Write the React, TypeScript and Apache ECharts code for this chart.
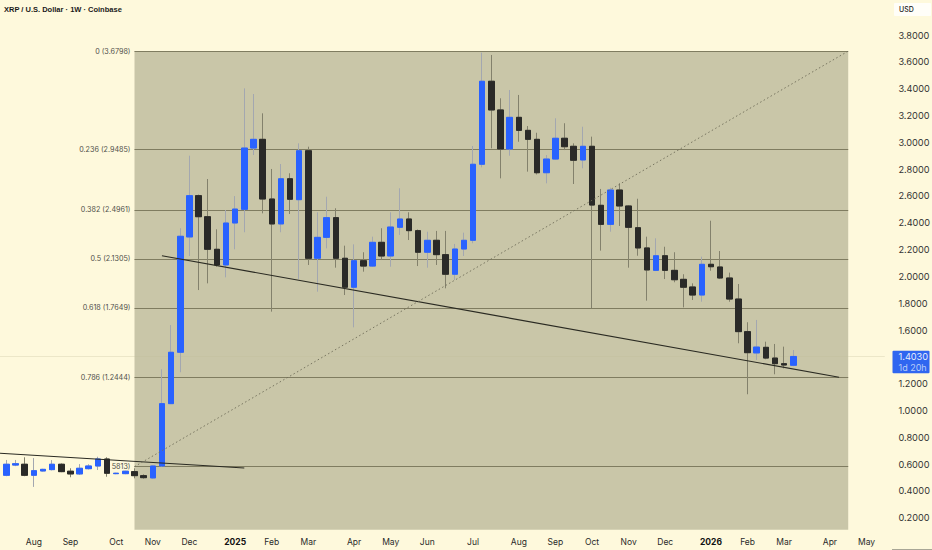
import React, { useEffect, useRef } from "react";
import * as echarts from "echarts";

const FONT = "Inter, 'Liberation Sans', sans-serif";
const PAGE_BG = "#fef9dc";
const TAN = "#c9c6a8";
const FIB_LINE = "#7f7c60";
const BLUE = "#2962ff";
const DARK = "#2a2a28";

const opens = [0.414,0.517,0.593,0.599,0.517,0.549,0.559,0.599,0.547,0.527,0.566,0.586,0.638,0.529,0.529,0.544,0.514,0.497,0.586,1.051,1.434,2.294,2.602,2.445,2.202,2.085,2.398,2.5,2.957,3.022,2.577,2.391,2.728,2.572,2.937,2.135,2.291,2.438,2.135,1.919,2.117,2.077,2.254,2.152,2.366,2.428,2.341,2.18,2.269,2.162,2.016,2.204,2.269,2.836,3.455,3.241,2.95,3.186,3.089,3.022,2.773,2.875,3.03,2.97,2.868,2.97,2.53,2.388,2.644,2.525,2.363,2.212,2.045,2.154,2.045,1.978,1.921,1.861,2.09,2.07,1.988,1.831,1.588,1.429,1.471,1.391,1.349,1.337];
const closes = [0.519,0.599,0.603,0.517,0.551,0.561,0.599,0.544,0.527,0.569,0.586,0.638,0.532,0.532,0.547,0.514,0.499,0.586,1.051,1.434,2.299,2.602,2.445,2.202,2.085,2.398,2.502,2.957,3.022,2.577,2.391,2.728,2.575,2.937,2.135,2.291,2.438,2.135,1.919,2.117,2.077,2.254,2.152,2.368,2.428,2.341,2.18,2.269,2.162,2.016,2.204,2.269,2.836,3.455,3.241,2.95,3.186,3.089,3.022,2.773,2.875,3.03,2.967,2.866,2.97,2.532,2.388,2.644,2.525,2.366,2.212,2.048,2.154,2.045,1.975,1.919,1.861,2.09,2.072,1.988,1.831,1.588,1.431,1.473,1.391,1.349,1.339,1.403];
const lows = [0.4,0.51,0.585,0.51,0.43,0.545,0.553,0.54,0.502,0.52,0.56,0.556,0.506,0.525,0.525,0.494,0.491,0.49,0.58,1.05,1.285,2.152,1.898,1.948,2.072,1.993,2.202,2.329,2.905,2.47,1.737,2.329,2.465,1.98,2.085,1.886,2.209,2.065,1.861,1.62,2.035,2.07,2.122,2.072,2.309,2.271,2.077,2.065,2.085,1.911,1.973,2.152,2.247,2.813,2.955,2.731,2.9,3.004,2.781,2.76,2.694,2.87,2.942,2.689,2.806,1.762,2.192,2.333,2.376,2.065,2.154,1.819,2.04,1.98,1.956,1.769,1.824,1.811,2.042,1.98,1.811,1.501,1.121,1.377,1.382,1.27,1.314,1.33];
const highs = [0.53,0.631,0.631,0.651,0.645,0.565,0.63,0.605,0.569,0.6,0.599,0.655,0.651,0.535,0.55,0.569,0.524,0.59,1.307,1.637,2.359,2.9,2.61,2.726,2.351,2.495,2.599,3.402,3.36,3.216,2.801,2.838,2.769,2.992,2.967,2.478,2.594,2.508,2.229,2.239,2.18,2.296,2.359,2.478,2.657,2.478,2.35,2.333,2.339,2.339,2.242,2.326,2.972,3.668,3.651,3.328,3.39,3.353,3.121,3.071,2.905,3.179,3.142,2.992,3.116,3.042,2.652,2.661,2.694,2.53,2.579,2.296,2.284,2.221,2.18,2.016,1.948,2.147,2.415,2.189,2.028,1.943,1.658,1.675,1.513,1.496,1.476,1.451];

const FIRST_WEEK = Date.UTC(2024, 6, 8);
const CATEGORY_COUNT = 98;
const weeks = Array.from({ length: CATEGORY_COUNT }, (_, i) =>
  new Date(FIRST_WEEK + i * 7 * 86400000).toISOString().slice(0, 10)
);

const monthTicks: [number, string][] = [
  [4,"Aug"],[8,"Sep"],[13,"Oct"],[17,"Nov"],[21,"Dec"],[26,"2025"],[30,"Feb"],[34,"Mar"],[39,"Apr"],[43,"May"],[47,"Jun"],
  [52,"Jul"],[57,"Aug"],[61,"Sep"],[65,"Oct"],[69,"Nov"],[73,"Dec"],[78,"2026"],[82,"Feb"],[86,"Mar"],[91,"Apr"],[95,"May"],
];
const tickMap = new Map(monthTicks);

const priceTicks = ["0.2000","0.4000","0.6000","0.8000","1.0000","1.2000","1.6000","1.8000","2.0000","2.2000","2.4000","2.6000","2.8000","3.0000","3.2000","3.4000","3.6000","3.8000"];

const fibLevels: [string, number][] = [
  ["0 (3.6798)", 3.6798],
  ["0.236 (2.9485)", 2.9485],
  ["0.382 (2.4961)", 2.4961],
  ["0.5 (2.1305)", 2.1305],
  ["0.618 (1.7649)", 1.7649],
  ["0.786 (1.2444)", 1.2444],
  ["5813)", 0.5813],
];
const FIB_START = 15;
const FIB_END = 93;
const AREA_BOTTOM = 0.111;
const LAST_PRICE = 1.403;

const trendMain: [number, number][] = [[18, 2.154], [92, 1.248]];
const trendOld: [number, number][] = [[0, 0.682], [27, 0.571]];

function segment(a: [number, number], b: [number, number]) {
  return [{ coord: [weeks[a[0]], a[1]] }, { coord: [weeks[b[0]], b[1]] }];
}

function flag(cx: number, cy: number) {
  const r = 5;
  return {
    type: "group",
    silent: true,
    children: [
      { type: "circle", shape: { cx, cy, r }, style: { fill: "#fff", stroke: "#e4596f", lineWidth: 1.1 } },
      { type: "line", shape: { x1: cx - 3.4, y1: cy + 0.5, x2: cx + 3.4, y2: cy + 0.5 }, style: { stroke: "#e4596f", lineWidth: 1 } },
      { type: "line", shape: { x1: cx - 2.8, y1: cy + 2.6, x2: cx + 2.8, y2: cy + 2.6 }, style: { stroke: "#e4596f", lineWidth: 1 } },
      { type: "sector", shape: { cx, cy, r: 4.2, startAngle: Math.PI, endAngle: Math.PI * 1.6 }, style: { fill: "#3f7fd8" } },
    ],
  };
}

export default function App() {
  const ref = useRef<HTMLDivElement>(null);
  useEffect(() => {
    document.body.style.margin = "0";
    document.body.style.background = PAGE_BG;
    const chart = echarts.init(ref.current!, undefined, { renderer: "svg" });
    const candleData = opens.map((o, i) => [o, closes[i], lows[i], highs[i]]);
    const bodyData = opens.map((o, i) => [o, closes[i], Math.min(o, closes[i]), Math.max(o, closes[i])]);
    chart.setOption({
      animation: false,
      backgroundColor: PAGE_BG,
      grid: { left: -7.33, top: 8.18, width: 896.73, height: 536.4, containLabel: false, outerBoundsMode: "none" },
      xAxis: {
        type: "category",
        data: weeks,
        boundaryGap: true,
        axisLine: { show: false },
        axisTick: { show: false },
        splitLine: { show: false },
        axisLabel: {
          margin: -7.5,
          interval: (i: number) => tickMap.has(i),
          formatter: (_: string, i: number) => {
            const t = tickMap.get(i) ?? "";
            return /^\d/.test(t) ? `{b|${t}}` : t;
          },
          color: "#2a2a2a",
          fontFamily: FONT,
          fontSize: 8.5,
          rich: { b: { fontWeight: 700, fontSize: 8.5, color: "#111", fontFamily: FONT } },
        },
      },
      yAxis: {
        type: "value",
        position: "right",
        min: 0,
        max: 4,
        interval: 0.2,
        axisLine: { show: false },
        axisTick: { show: false },
        splitLine: { show: false },
        axisLabel: {
          margin: 9,
          color: "#333",
          fontFamily: FONT,
          fontSize: 9.2,
          showMinLabel: true,
          showMaxLabel: true,
          formatter: (v: number) => (priceTicks.includes(v.toFixed(4)) ? v.toFixed(4) : ""),
        },
      },
      series: [
        {
          type: "line",
          data: [],
          z: 1,
          silent: true,
          markArea: {
            silent: true,
            z: 0,
            itemStyle: { color: TAN },
            data: [[{ coord: [weeks[FIB_START], fibLevels[0][1]] }, { coord: [weeks[FIB_END], AREA_BOTTOM] }]],
          },
          markLine: {
            silent: true,
            z: 1,
            symbol: ["none", "none"],
            animation: false,
            lineStyle: { color: FIB_LINE, width: 1, type: "solid" },
            label: {
              show: true,
              position: "start",
              distance: 4,
              formatter: "{b}",
              color: "#4f4f4a",
              fontFamily: FONT,
              fontSize: 7.2,
            },
            data: [
              ...fibLevels.map(([name, v]) => [
                { name, coord: [weeks[FIB_START], v] },
                { coord: [weeks[FIB_END], v] },
              ]),
              [
                {
                  coord: [weeks[0], LAST_PRICE],
                  label: { show: false },
                  lineStyle: { color: "rgba(190,185,150,0.28)", width: 1 },
                },
                { coord: [weeks[CATEGORY_COUNT - 1], LAST_PRICE] },
              ],
            ],
          },
        },
        {
          type: "candlestick",
          z: 2,
          silent: true,
          barWidth: 6,
          data: candleData,
          itemStyle: { color: "#a3a7b0", color0: "#83816c", borderColor: "#a3a7b0", borderColor0: "#83816c", borderWidth: 1 },
        },
        {
          type: "candlestick",
          z: 3,
          silent: true,
          barWidth: 6,
          data: bodyData,
          itemStyle: { color: BLUE, color0: DARK, borderColor: BLUE, borderColor0: DARK, borderWidth: 1 },
        },
        {
          type: "line",
          data: [],
          z: 4,
          silent: true,
          markLine: {
            silent: true,
            z: 5,
            symbol: ["none", "none"],
            animation: false,
            label: { show: false },
            lineStyle: { color: "#2a2a22", width: 1.1, type: "solid" },
            data: [
              segment(trendMain[0], trendMain[1]),
              segment(trendOld[0], trendOld[1]),
              [
                { coord: [weeks[FIB_START], fibLevels[6][1]], lineStyle: { color: "#6e6c58", width: 0.9, type: [1.5, 2.5] } },
                { coord: [weeks[FIB_END], fibLevels[0][1]] },
              ],
            ],
          },
        },
      ],
      graphic: [
        { type: "text", x: 4, y: 5, silent: true, style: { text: "XRP / U.S. Dollar · 1W · Coinbase", fill: "#1a1a1a", font: `700 7.5px 'Liberation Sans', sans-serif` } },
        { type: "rect", silent: true, shape: { x: 894, y: 3, width: 37, height: 13, r: 1 }, style: { fill: "#fffef8" } },
        { type: "text", x: 899, y: 6, silent: true, style: { text: "USD", fill: "#222", font: `500 7px ${FONT}` } },
        { type: "rect", silent: true, z: 10, shape: { x: 892.5, y: 350.7, width: 37, height: 22.6, r: 1 }, style: { fill: "#2f66f0" } },
        { type: "text", x: 898.5, y: 352.4, z: 11, silent: true, style: { text: "1.4030", fill: "#e8eefc", font: `9.2px ${FONT}` } },
        { type: "text", x: 898.5, y: 362.6, z: 11, silent: true, style: { text: "1d 20h", fill: "#b9cdf8", font: `9px ${FONT}` } },
        { type: "rect", silent: true, shape: { x: 892, y: 549, width: 40, height: 1 }, style: { fill: "#a9a796" } },
        {
          type: "group",
          silent: true,
          children: [
            { type: "ellipse", shape: { cx: 793, cy: 509, rx: 7, ry: 5 }, rotation: 0.5, originX: 793, originY: 509, style: { fill: "#fff", stroke: "#9a6fd0", lineWidth: 1.1 } },
            { type: "circle", shape: { cx: 788, cy: 511, r: 1.7 }, style: { fill: "#5b3fd1" } },
            { type: "circle", shape: { cx: 797, cy: 506, r: 1.1 }, style: { fill: "#d4326b" } },
            { type: "line", shape: { x1: 794, y1: 507, x2: 792, y2: 511 }, style: { stroke: "#7b55cc", lineWidth: 1 } },
          ],
        },
        flag(793.2, 522.5),
        flag(803, 522.5),
      ],
    });
    return () => chart.dispose();
  }, []);
  return <div ref={ref} style={{ width: 932, height: 550 }} />;
}
